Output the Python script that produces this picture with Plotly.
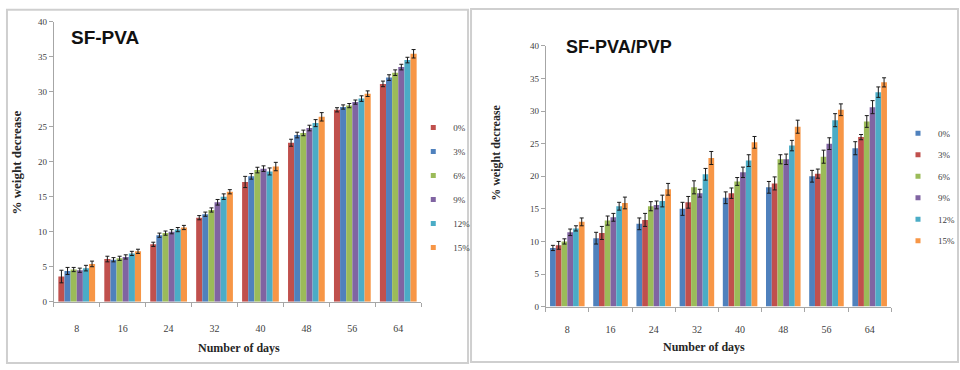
import plotly.graph_objects as go

# ---- data -------------------------------------------------------------
days = ["8", "16", "24", "32", "40", "48", "56", "64"]
series_names = ["0%", "3%", "6%", "9%", "12%", "15%"]

# SF-PVA : % weight decrease
pva_0 = [3.6, 6.1, 8.2, 12.0, 17.1, 22.7, 27.4, 31.1]
pva_3 = [4.4, 6.0, 9.5, 12.5, 17.9, 23.8, 27.8, 32.0]
pva_6 = [4.6, 6.2, 9.8, 13.1, 18.8, 24.1, 28.0, 32.7]
pva_9 = [4.5, 6.4, 10.0, 14.2, 19.0, 24.8, 28.5, 33.5]
pva_12 = [4.8, 6.9, 10.3, 15.0, 18.6, 25.5, 29.0, 34.5]
pva_15 = [5.4, 7.2, 10.6, 15.7, 19.3, 26.4, 29.7, 35.4]

pva_err_0 = [0.9, 0.4, 0.3, 0.3, 0.8, 0.5, 0.3, 0.4]
pva_err_3 = [0.5, 0.3, 0.3, 0.3, 0.4, 0.4, 0.3, 0.4]
pva_err_6 = [0.3, 0.3, 0.3, 0.3, 0.4, 0.4, 0.3, 0.4]
pva_err_9 = [0.3, 0.3, 0.3, 0.4, 0.4, 0.4, 0.3, 0.4]
pva_err_12 = [0.4, 0.3, 0.3, 0.4, 0.5, 0.5, 0.4, 0.4]
pva_err_15 = [0.4, 0.3, 0.3, 0.3, 0.6, 0.6, 0.4, 0.6]

# SF-PVA/PVP : % weight decrease
pvp_0 = [9.0, 10.5, 12.7, 15.0, 16.7, 18.3, 20.0, 24.3]
pvp_3 = [9.4, 11.3, 13.3, 16.0, 17.4, 18.9, 20.4, 26.0]
pvp_6 = [10.0, 13.2, 15.4, 18.3, 19.2, 22.6, 23.0, 28.4]
pvp_9 = [11.4, 13.7, 15.6, 17.4, 20.6, 22.6, 25.0, 30.6]
pvp_12 = [12.0, 15.4, 16.2, 20.3, 22.4, 24.7, 28.6, 32.9]
pvp_15 = [13.0, 15.9, 18.0, 22.8, 25.2, 27.6, 30.2, 34.4]

pvp_err_0 = [0.4, 0.9, 0.9, 1.0, 0.9, 0.9, 0.9, 1.0]
pvp_err_3 = [0.6, 1.0, 1.0, 0.9, 0.8, 1.0, 0.7, 0.4]
pvp_err_6 = [0.4, 0.7, 0.7, 1.0, 0.6, 0.7, 1.0, 0.9]
pvp_err_9 = [0.5, 0.6, 0.6, 0.6, 0.8, 0.8, 0.9, 1.0]
pvp_err_12 = [0.4, 0.6, 0.9, 0.9, 0.9, 0.8, 1.0, 0.8]
pvp_err_15 = [0.6, 0.9, 0.9, 1.0, 0.9, 1.0, 0.9, 0.7]

pva_values = [pva_0, pva_3, pva_6, pva_9, pva_12, pva_15]
pva_errors = [pva_err_0, pva_err_3, pva_err_6, pva_err_9, pva_err_12, pva_err_15]
pvp_values = [pvp_0, pvp_3, pvp_6, pvp_9, pvp_12, pvp_15]
pvp_errors = [pvp_err_0, pvp_err_3, pvp_err_6, pvp_err_9, pvp_err_12, pvp_err_15]

# ---- styling ----------------------------------------------------------
RED, BLUE, GREEN = "#C0504D", "#4F81BD", "#9BBB59"
PURPLE, TEAL, ORANGE = "#8064A2", "#4BACC6", "#F79646"
pva_colors = [RED, BLUE, GREEN, PURPLE, TEAL, ORANGE]
pvp_colors = [BLUE, RED, GREEN, PURPLE, TEAL, ORANGE]

W, H = 960, 370
SERIF = "Liberation Serif, DejaVu Serif, serif"
TITLE_FONT = "Liberation Sans, Arial, sans-serif"
AXIS_GRAY = "#a6a6a6"


def px(x):
    return x / W


def py(y):
    return 1 - y / H


fig = go.Figure()


def add_panel(values, errors, colors, xa, ya, legend_id):
    for name, vals, errs, col in zip(series_names, values, errors, colors):
        fig.add_trace(go.Bar(
            x=days, y=vals, name=name, xaxis=xa, yaxis=ya,
            marker=dict(color=col, line=dict(width=0)),
            error_y=dict(type="data", array=errs, visible=True,
                         color="#1a1a1a", thickness=1, width=2),
            showlegend=False,
        ))
        # small square key for the legend
        fig.add_trace(go.Scatter(
            x=[None], y=[None], name=name, xaxis=xa, yaxis=ya,
            mode="markers", marker=dict(symbol="square", size=5, color=col),
            legend=legend_id, legendgroup=legend_id + name, showlegend=True,
        ))


add_panel(pva_values, pva_errors, pva_colors, "x", "y", "legend")
add_panel(pvp_values, pvp_errors, pvp_colors, "x2", "y2", "legend2")

xaxis_common = dict(
    type="category", showline=True, linecolor=AXIS_GRAY, linewidth=1,
    ticks="outside", tickson="boundaries", ticklen=4, tickcolor=AXIS_GRAY,
    tickfont=dict(family=SERIF, size=10, color="#404040"),
    showgrid=False, zeroline=False, fixedrange=True,
)
yaxis_common = dict(
    range=[0, 40], dtick=5, showline=True, linecolor=AXIS_GRAY, linewidth=1,
    ticks="outside", ticklen=4, tickcolor=AXIS_GRAY,
    tickfont=dict(family=SERIF, size=9, color="#404040"),
    showgrid=False, zeroline=False, fixedrange=True,
)

legend_common = dict(
    bgcolor="rgba(0,0,0,0)", borderwidth=0, xanchor="left", yanchor="top",
    font=dict(family=SERIF, size=9, color="#404040"),
    itemsizing="trace", itemwidth=30,
)

fig.update_layout(
    width=W, height=H, autosize=False,
    margin=dict(l=0, r=0, t=0, b=0, pad=0),
    paper_bgcolor="white", plot_bgcolor="white",
    barmode="group", bargap=0.2, bargroupgap=0,
    xaxis=dict(domain=[px(54), px(423)], anchor="y", ticklabelstandoff=17, **xaxis_common),
    yaxis=dict(domain=[py(305), py(17)], anchor="x", **yaxis_common),
    xaxis2=dict(domain=[px(548), px(895)], anchor="y2", ticklabelstandoff=13, **xaxis_common),
    yaxis2=dict(domain=[py(310), py(42)], anchor="x2", **yaxis_common),
    legend=dict(x=px(415), y=py(111), tracegroupgap=5, **legend_common),
    legend2=dict(x=px(902), y=py(117), tracegroupgap=2.5, **legend_common),
    showlegend=True,
)

annotations = [
    dict(text="<b>SF-PVA</b>", x=px(69), y=py(33), xanchor="left", yanchor="middle",
         font=dict(family=TITLE_FONT, size=19, color="#111111")),
    dict(text="<b>SF-PVA/PVP</b>", x=px(566), y=py(43), xanchor="left", yanchor="middle",
         font=dict(family=TITLE_FONT, size=18, color="#111111")),
    dict(text="<b>Number of days</b>", x=px(240), y=py(353), xanchor="center", yanchor="middle",
         font=dict(family=SERIF, size=12, color="#262626")),
    dict(text="<b>Number of days</b>", x=px(707), y=py(352), xanchor="center", yanchor="middle",
         font=dict(family=SERIF, size=12, color="#262626")),
    dict(text="<b>% weight decrease</b>", x=px(17), y=py(162), textangle=-90,
         xanchor="center", yanchor="middle",
         font=dict(family=SERIF, size=13, color="#262626")),
    dict(text="<b>% weight decrease</b>", x=px(498), y=py(152), textangle=-90,
         xanchor="center", yanchor="middle",
         font=dict(family=SERIF, size=12, color="#262626")),
]
for a in annotations:
    a.update(xref="paper", yref="paper", showarrow=False)
fig.update_layout(annotations=annotations)

# panel frames
frame = dict(type="rect", xref="paper", yref="paper",
             line=dict(color="#cfcfcf", width=2), fillcolor="rgba(0,0,0,0)", layer="below")
fig.update_layout(shapes=[
    dict(x0=px(7), x1=px(470), y0=py(368), y1=py(5), **frame),
    dict(x0=px(473), x1=px(962), y0=py(367), y1=py(4), **frame),
])

fig.write_html("out.html")
